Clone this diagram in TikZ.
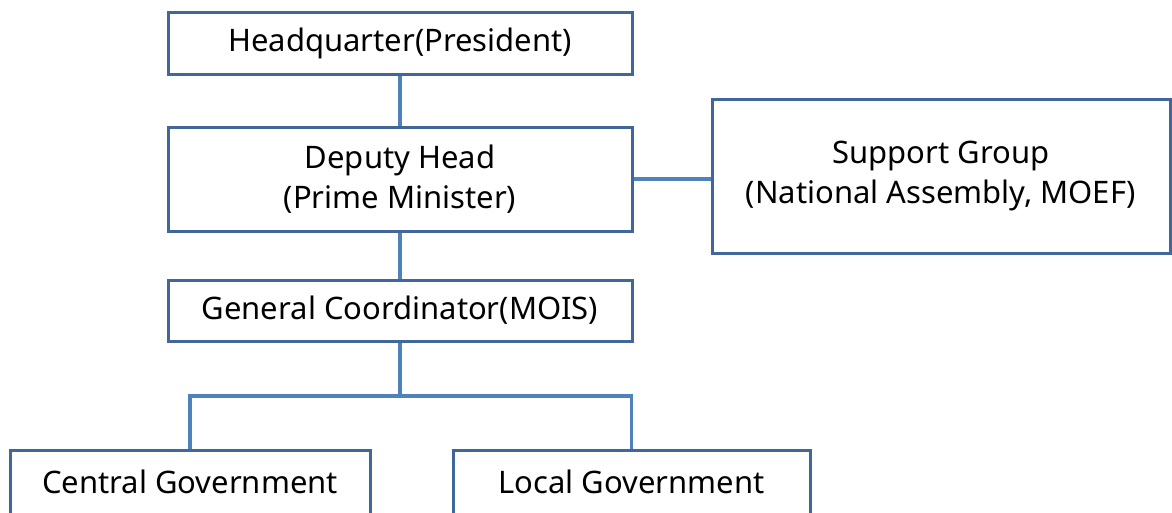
\documentclass[tikz,border=0pt]{standalone}
\usepackage{fontspec}
\setmainfont{Noto Sans}
\usetikzlibrary{positioning}
\definecolor{boxline}{HTML}{41679A}
\definecolor{linkline}{HTML}{4F81BD}
\tikzset{
  orgbox/.style={draw=boxline, line width=3pt, rectangle, align=center,
    font=\fontsize{31}{40}\selectfont, inner sep=0pt},
  link/.style={draw=linkline, line width=3.5pt}
}

\begin{document}
\begin{tikzpicture}[x=1pt,y=-1pt]
\useasboundingbox (0,0) rectangle (1172,512);
\node[orgbox, minimum width=464pt, minimum height=62pt] (hq) at (400,43) {Headquarter(President)};
\node[orgbox, minimum width=464pt, minimum height=104pt] (deputy) at (400,179) {Deputy Head\\(Prime Minister)};
\node[orgbox, minimum width=458pt, minimum height=154pt] (support) at (941,176) {Support Group\\(National Assembly, MOEF)};
\node[orgbox, minimum width=464pt, minimum height=61pt] (coord) at (400,310.5) {General Coordinator(MOIS)};
\node[orgbox, minimum width=360pt, minimum height=64pt] (central) at (190,482) {Central Government};
\node[orgbox, minimum width=357pt, minimum height=64pt] (local) at (631.5,482) {Local Government};
\coordinate (fork) at (400,396);
\draw[link] (hq.south) -- (deputy.north);
\draw[link] (deputy.east) -- (support.west |- deputy.east);
\draw[link] (deputy.south) -- (coord.north);
\draw[link] (coord.south) -- (fork);
\draw[link] (central.north) |- (fork) -| (local.north);
\end{tikzpicture}
\end{document}
